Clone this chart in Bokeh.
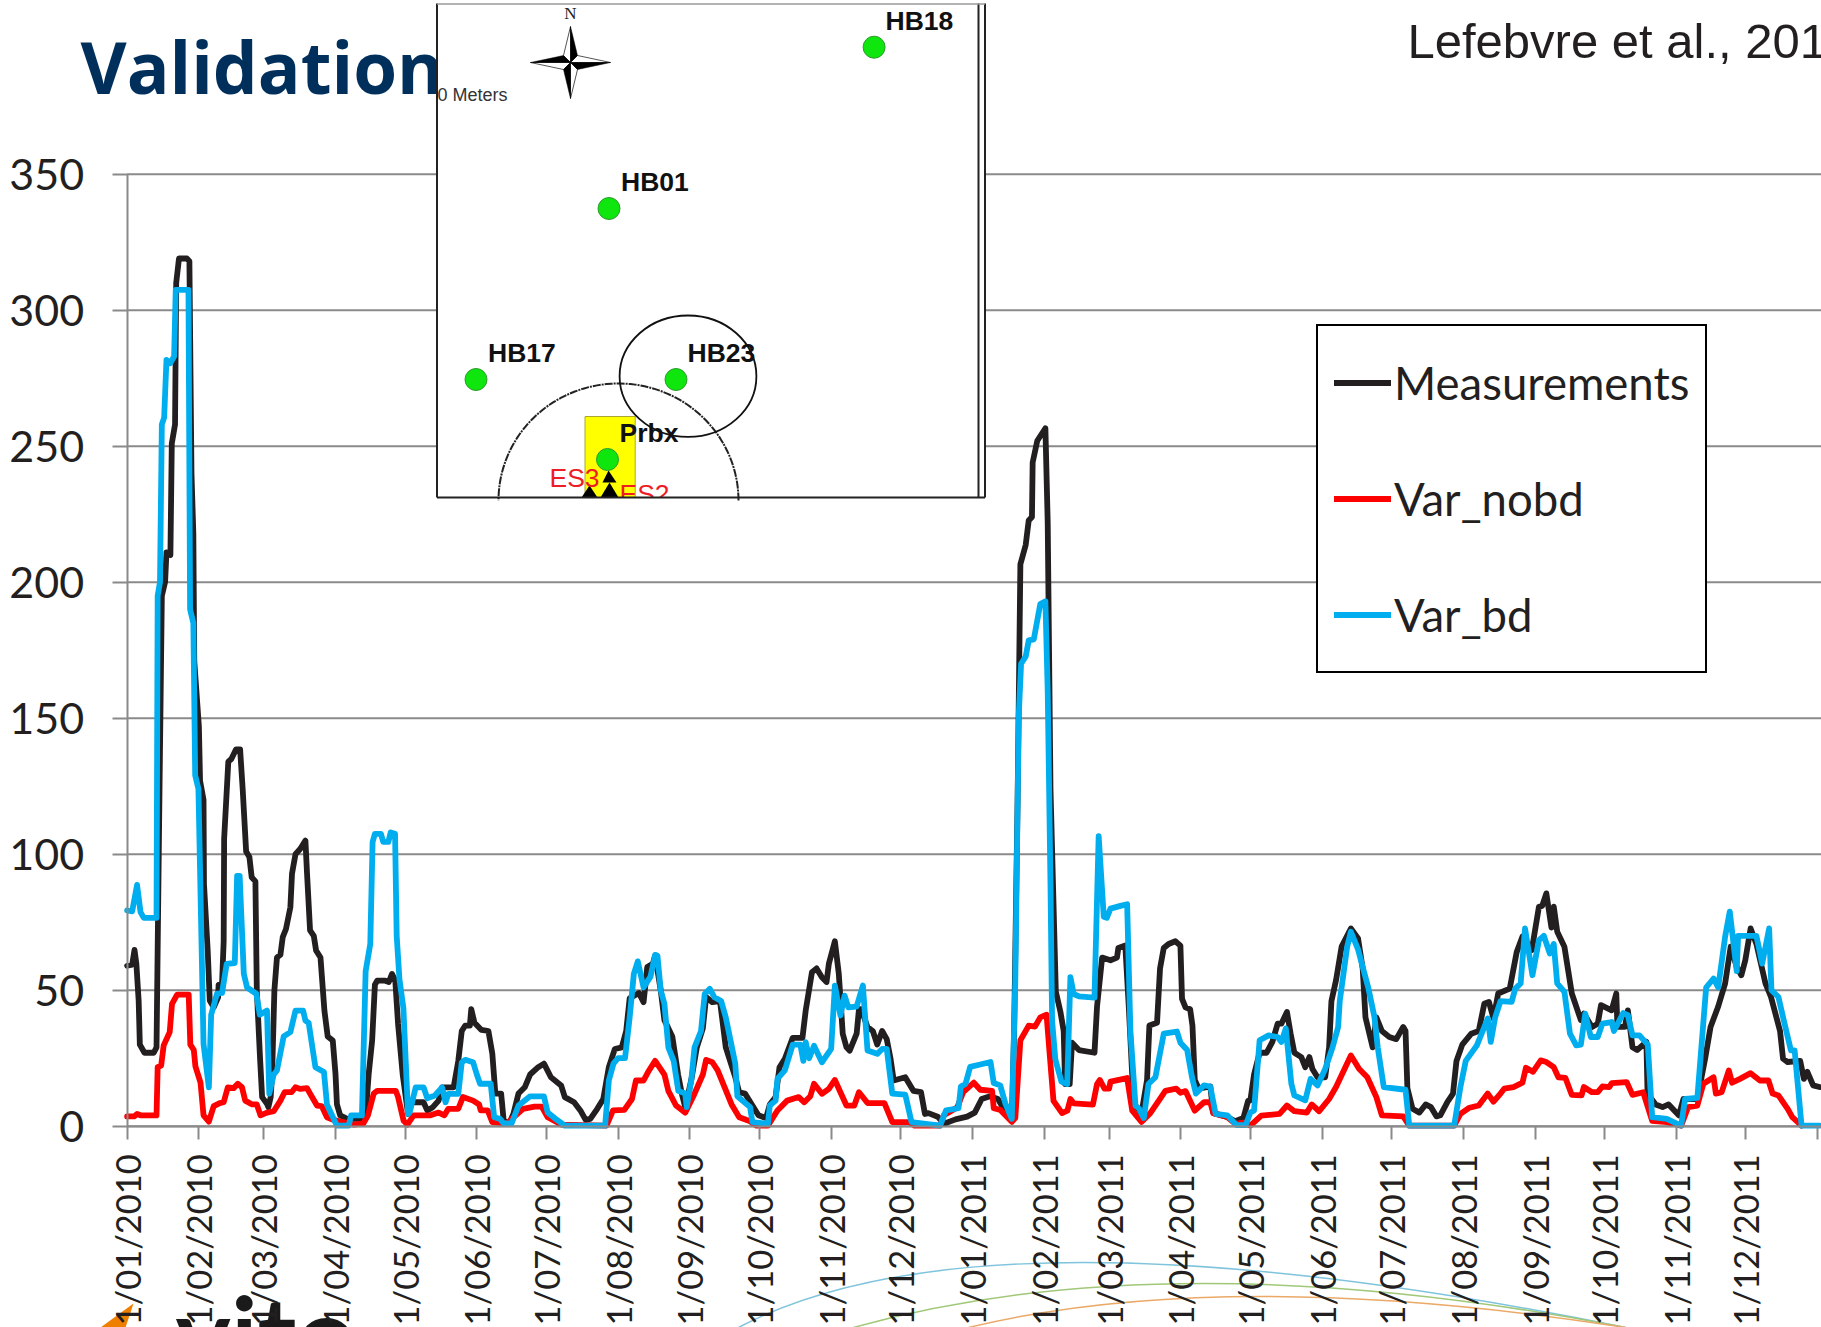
from datetime import date
import numpy as np
from bokeh.core.properties import value
from bokeh.embed import file_html
from bokeh.models import FixedTicker, Legend, LegendItem, Range1d
from bokeh.plotting import figure
from bokeh.resources import INLINE

TITLE = "Validation"
CITATION = "Lefebvre et al., 2013"
MONTH_LABELS = [f"1/{m:02d}/{y}" for y in (2010, 2011) for m in range(1, 13)]
Y_TICKS = [0, 50, 100, 150, 200, 250, 300, 350]

# (day since 1 Jan 2010, value)
MEASUREMENTS = [
(0,59),(2.2,59.4),(3.2,64.8),(4,59.7),(5,46),(5.5,30),(7.5,27),(11.5,27),(12.7,29),(14,124),(15,195),(16.4,200),(17,211),(18.7,210),(19.3,251),(20.7,258),(21.2,310),(22.4,319),(25.8,319),(26.9,318),(27.8,240),(28.6,218),(29,171),(31,147),(31.5,127),(33,120),(33.2,89),(34.8,64.6),(35.7,46.2),(37.4,43.7),(39.3,47.4),(39.5,52),(41,52.6),(41.7,68),(41.9,105.6),(43.7,134),(45,135),(47,138.5),(48.8,138.5),(49.9,124),(51.4,101),(52.8,99),(53.8,91.5),(55.4,90),(56,50),(57.4,25),(58.3,10.7),(60.4,8.2),(61,7),(62,10.7),(62.6,19),(63.6,50),(64.7,62),(66.2,63),(67.2,69.5),(68.6,72.5),(70.5,80.5),(71.2,92.8),(72.7,100),(74.8,102),(77,105),(77.7,92.8),(79,72),(80.6,70),(81.6,64.6),(83.5,62),(85.2,42.5),(86.6,33),(88.8,31.5),(90,19),(90.6,8),(92,4),(95,2.7),(100.7,2.7),(103,4),(104.3,19),(105.8,31.5),(107,52),(108,53.5),(111.5,53.5),(113,53),(114.4,56),(115.8,53.5),(117,37.6),(119,19),(121.3,4.5),(123,8.8),(128,8.8),(129.6,5.8),(132,7),(134.5,9.4),(136,14.3),(141,14.3),(143,24),(144.5,35),(146,37),(148,37),(148.6,43),(150,38),(153,35.4),(156,35),(157.7,26.6),(159,12),(161.5,12),(162.6,2),(165,1),(166.8,4.5),(169,12),(171.7,14.3),(174,19),(177.5,21.7),(180,23),(183,18),(187.4,15),(189,10.7),(193,8.8),(195.7,5.8),(198,2.3),(200,2.7),(203,6.4),(205.6,10),(208,21.7),(210.6,28.4),(213.6,29),(215.5,35),(217,47),(221,49),(223,45.6),(224.6,58.5),(227,59.7),(228,62.7),(230.4,50),(232,39),(235.4,33),(237.9,19),(239.5,12),(241,7),(243.6,17),(246,29),(248.6,36),(250,47.5),(252.7,45.6),(256,46),(258.5,29),(262.6,18),(264.3,12.5),(266.8,12),(270,7.6),(272.6,4),(275.9,3),(277.5,8),(280,10.7),(281.7,21.7),(284,24.8),(287.4,32.5),(291.6,32.5),(293,42.5),(295.7,56.6),(297.7,58),(300,54.8),(302,53),(303,59.7),(305.6,68),(307.3,56),(309,34),(310.6,29),(312,27.8),(315,34),(316,43),(317,43),(319.7,36.4),(322,35),(323.9,30),(326,35),(328,32),(329.6,25),(331,16.8),(336,18),(339.5,13),(342.8,12.5),(344.5,4.5),(346,4.8),(350,3.5),(352.7,0.9),(357.7,2.5),(362.7,3.5),(366,5),(369,10),(372.6,11),(376,10),(379,5.7),(382,2),(383,35),(384.5,120),(385.7,206.6),(388,213.7),(389.3,222.7),(390.7,224),(391,244),(393,252),(396.5,256.6),(397.5,222),(398.7,124),(401,49.5),(403,42),(404.4,35),(405,15.5),(407,15.5),(408,30.7),(411,28),(417.7,27),(418.8,44),(421,62),(424.6,61),(427.4,62),(428,65.5),(431,66.4),(432.5,44),(434.6,8.4),(438,4.8),(440.4,17),(441.4,37),(444.7,38),(446,58),(447.6,65.5),(449.7,67),(452.6,68),(454.8,66.4),(455.5,46.8),(457,43.7),(459,43),(460,37),(461,17),(462.7,13.8),(467.7,14.6),(469,4.8),(475,3.4),(478.5,1.8),(482,3),(484,9.3),(485,9.5),(486.6,19),(489,27),(492,27),(494.5,31),(496.8,37.7),(498.4,37.7),(500.8,42),(502.4,34),(504,27),(507,25.4),(508.7,21.7),(510.5,25.4),(511.8,21),(514,18),(517.3,18),(519,29),(520,46),(522,53.7),(524.4,66),(528.4,72.7),(531.5,69),(533.5,58),(534.7,40),(537.8,29),(539.4,40),(541.8,35),(545,32.8),(548,32),(551,36.5),(552,35),(552.8,14),(555,6.4),(558,5),(560.7,8),(563,7),(565.4,3.6),(567,4),(570,8.8),(572.5,12),(574,24),(576.5,30),(580.4,34),(583.6,35),(586,45),(588,45.7),(590,39.6),(592,48.8),(597,50.6),(600,64),(602.5,69.7),(606.5,64.7),(609.6,80.7),(611,81),(612.8,85.6),(615,73),(616,80.7),(617.5,71.5),(620.6,66),(623.8,48.8),(627.7,39),(629,41.4),(632.5,36.5),(635,37.7),(636.4,44.5),(641,42.6),(643,48.8),(643.5,36.5),(646.7,36.5),(648,42.6),(650,29),(652,28),(656,31),(656.5,12),(660,8),(663,7),(665.6,8),(670,4),(672,10),(678,10),(681.4,25),(683.7,36.5),(687,44),(690,52.5),(692.4,66),(695,58.6),(697,55.5),(698.7,61),(701,72.7),(703.5,67),(707.4,52.5),(709.8,47.5),(713.7,35),(715,24.8),(717,23.6),(722.4,24),(724,17.4),(725.5,20),(728,15),(730.7,14.4)]

VAR_NOBD = [
(0,3.6),(3,3.6),(4.3,4.5),(5.8,4),(12.7,4),(13.2,21.7),(14.7,22.3),(15.8,29.7),(18.4,34.6),(19.4,45),(21.6,48.4),(26.6,48.4),(27.3,30),(28.8,28),(29.5,22),(31.7,16),(33,4),(35.3,1.7),(37.4,7.4),(40,8.5),(41.7,8.8),(43.5,14.3),(46,14),(47.8,15.6),(49.6,14.3),(51,9.4),(54,8),(56,8),(57.6,4),(60.4,5),(63.3,5.5),(66.2,9.4),(68,12.5),(71,12.5),(72.7,14.3),(74.8,13.7),(77.7,14),(79,12),(82,7.6),(84,7.4),(86.3,3.3),(89,2.3),(98,0.6),(102,1),(104,4),(106.5,12),(108,13),(116,13),(117,10.7),(119.4,2),(121,0.6),(123.7,4),(131,4),(134.5,5),(137,4),(138.7,6.4),(143,6.4),(145,10.7),(149.4,9.4),(152,8),(152.7,5.8),(155.7,5.8),(157.7,1.5),(164,1),(167.8,4),(171,6.4),(175.9,7.2),(179,7.2),(181.6,3.3),(187.4,0.6),(207,0.2),(209.8,5.8),(214.7,6),(218,10),(219.7,16.8),(223,16.8),(225,20),(228,24),(232,19),(233.7,13),(237,7.6),(241,5),(244.5,11),(248.6,19),(250,24.4),(252.7,23.5),(255,20.5),(261,8),(264.3,3.3),(269,1.8),(271.7,0.2),(276.7,0.2),(280.8,5.8),(285,9.4),(290,10.7),(292.4,8.8),(295,11),(296.6,15.6),(300,11.9),(303,13.7),(305.6,17),(310.6,7.6),(314,7.6),(316,12.5),(319.7,8.5),(327,8.5),(330.4,1.5),(337.9,1.5),(340,0.2),(351,0.2),(352.7,4),(358.5,7),(361,12.5),(365.6,16),(368.4,13.4),(373.5,13),(374.2,6.6),(377,6),(382,1.6),(383.5,3),(385.7,31.6),(389.3,37),(392,36.6),(394.3,40),(397,41),(398.4,26),(400,9.3),(403.7,4.8),(406,5.7),(407.3,10),(408.7,8.4),(417,7.9),(418.8,15.5),(420,17),(422,13.8),(424,13.8),(424.6,16.4),(431.8,17.7),(434,5.7),(438,1.6),(441.8,4.8),(445.4,9.3),(448.3,13),(453,13.8),(454.8,12.3),(457,12.9),(461,5.7),(465,8.8),(467.7,8.8),(469,4.8),(475,3.4),(478.5,0.9),(482,1.3),(485,0.2),(489.7,3.9),(497.6,4.5),(500.8,7.6),(504,5.5),(509.4,5),(511.5,8),(514.7,5.5),(519,10),(522,14.4),(528.4,26),(532,21),(535.5,18),(539.4,10.7),(541.8,4),(551,3.6),(553.6,0.2),(573,0.2),(575.7,4.5),(579.6,6.8),(583.6,7.6),(587.5,12),(590,9),(593,12),(594.6,13.8),(598.6,14.4),(602.5,16),(604,21.5),(607,20),(610.4,24.2),(612.8,23.6),(616,21.7),(618,18),(621,17.8),(623.8,11.5),(628,11.3),(629,14.4),(632.5,12.5),(635,12.5),(637,14.6),(640,14.4),(641,15.8),(647.5,16.2),(650,11.5),(654.6,12.5),(658.5,2),(664.8,1.5),(671,0.2),(674,7),(678,7.6),(680.6,15.6),(685,18),(686,12),(688.5,12.5),(691.6,20.5),(693,16),(696.4,17.4),(701,19.5),(705,16.8),(708.7,16.8),(710.5,12),(713,11.3),(717,6.4),(719,3.3),(723,0.2)]

VAR_BD = [
(0,79.3),(2.2,79),(4.3,88.7),(5.8,78.7),(7.2,76.6),(12.7,76.6),(13.2,195),(14.2,200),(15,258),(16,260.5),(17,281.7),(18.6,280.5),(20.3,283),(21,307.5),(26.5,307.5),(27.2,190),(28.6,185),(29.4,129),(30.8,124),(33,30.3),(35.3,14.3),(36.3,41),(38.8,48.7),(41,49),(43,59.7),(46.5,60),(47.5,92),(48.6,92),(50.4,56),(51.8,51),(55.8,48.7),(57.3,41),(60.4,42.5),(61.4,12),(63.3,19),(64.7,20.5),(67.6,33),(70.5,34.6),(72.7,42.5),(76,42.5),(77,38.8),(78.4,38),(81.3,21.7),(85,19.9),(86.3,8),(90.6,0.2),(95.7,0.2),(96.7,4),(101.4,4),(103,57),(105,67),(106,104.5),(107,107.5),(109.6,107.5),(110.6,104.5),(112.8,104.5),(113.8,108),(115.7,107.5),(116.4,70),(117.6,54),(119.3,43.4),(121.3,4.5),(122,5),(124.6,14.3),(128,14.3),(129.6,10.3),(132.9,11.3),(136,14.3),(137.5,8.8),(138.7,11.9),(143,11.9),(144.5,23.5),(146,24.4),(149.4,23.5),(151,19),(152.4,15.6),(157,15.6),(158.5,3.3),(161,2.7),(162.6,1),(166,1),(169,7.6),(174,11),(180,11),(181.6,5),(185,2.7),(189,0.2),(206.4,0.2),(208,16.8),(210,23),(212,25),(215,25),(217,40),(218.8,56),(220.5,60.6),(223,51),(226,55),(228,63),(229,62.7),(230.4,50),(232,45),(233.7,29),(236,24),(238,13),(241,12),(241.6,7),(243.6,16.8),(245,29),(247.8,35),(249.4,48.6),(251.6,50.5),(253.6,47.4),(256.5,46),(258.5,40),(262.6,23),(263.5,11),(269,7),(270,1.5),(276.7,0.9),(277.5,7.6),(280,9.4),(280.8,17.4),(284,20.5),(287.4,30),(290.7,30),(292,24),(293,30.9),(294.5,25),(296.6,29.6),(300,23.5),(304,28.4),(305.6,51.7),(308,40.7),(309.8,48),(311.4,43.7),(315,44),(317.7,51.7),(319.7,27.8),(323.9,26.6),(326,28.4),(328,28.4),(330.4,12),(336,11.6),(338.7,1.5),(351,0.2),(353.6,5.8),(359,6.6),(360,14.6),(362,15.5),(364,21.8),(368.4,22.7),(372.8,23.6),(374.2,15.9),(377,15),(379.2,8.4),(382,2.7),(383.5,53),(385,151),(386,170),(388,172.7),(389.3,178.6),(391.5,179),(393,186),(394.3,192),(396.5,193),(397.5,160),(398.7,88.8),(399.4,38.8),(400.8,24.5),(403.4,16.4),(405.9,15.5),(407.3,54.8),(408.7,48.6),(411,47.7),(417.7,47.3),(419.5,106.6),(421.7,77),(423,76.6),(424.6,80),(428.9,81),(431.8,81.6),(433.2,35),(435.4,7.5),(436.8,6.6),(439,3),(441,15.5),(444,18),(447.6,34),(453.3,34.8),(454.8,30.7),(457.7,28),(459.8,18),(461.5,12),(465,15),(467.7,14.6),(470,4.5),(475,4),(479,0.4),(483,0.4),(485,5),(486.6,5.8),(489,31.6),(492.9,33.4),(496.8,32.8),(498.4,31),(500.3,35.9),(502.7,15.6),(504,11.3),(508.7,9.5),(511,17.4),(514,15),(517.3,21),(520.5,29),(522.9,36.5),(523.6,46),(526.8,66),(528.4,71.5),(531.5,65),(536,50.6),(538.6,40),(540,29),(542.6,14.4),(552,13.4),(553.6,0.2),(573,0.2),(575.7,14.4),(578,24),(582.8,29.7),(587.5,39.6),(588.8,31),(590.7,40),(593,46),(597.8,45.7),(599.4,50.6),(601.7,52.5),(603.6,72.7),(606.8,55.5),(609.6,68.4),(611.7,70),(614.3,63.5),(616,67),(617.5,52.5),(620.6,49.4),(623,34),(625.7,29.7),(627.7,30),(629.6,41.4),(632,32.8),(635,32.8),(637,37.7),(641,38.3),(642,35),(646,41.6),(648,40.8),(650,33.4),(653,33.4),(656.6,30),(658.5,3.3),(664.8,2.7),(671,0.2),(672.7,10),(678,10.4),(681.8,51),(685,54.3),(687,51),(690,69.7),(692,78.9),(695,57),(695.6,70),(703.5,70),(706,59.8),(709,72.7),(710,50),(713,47.5),(715.3,39),(718.4,27.9),(720,27.9),(723,0.2),(730.7,0.2)]

PX_PER_DAY = 2.316
PX_PER_UNIT = 2.72
X0_PX, Y0_PX = 126.6, 1125.7
L, T, R, B = 0, 0, 1821, 1327   # page pixels drawn by the figure

p = figure(width=R - L, height=B - T, output_backend="svg", toolbar_location=None,
           x_range=Range1d((L - X0_PX) / PX_PER_DAY, (R - X0_PX) / PX_PER_DAY),
           y_range=Range1d((Y0_PX - B) / PX_PER_UNIT, (Y0_PX - T) / PX_PER_UNIT),
           min_border=0, min_border_left=0, min_border_right=0, min_border_top=0, min_border_bottom=0,
           outline_line_color=None, background_fill_color="white")
p.grid.visible = False
p.extra_x_ranges["px"] = Range1d(L, R)
p.extra_y_ranges["px"] = Range1d(B, T)
PX = dict(x_range_name="px", y_range_name="px")
BASE = dict(text_baseline="alphabetic", **PX)

GREY = "#8a8a8a"
TXT = "#231f20"
tick_days = [(date(int(s[5:]), int(s[2:4]), 1) - date(2010, 1, 1)).days for s in MONTH_LABELS]

def label(x, y, texts, font, size, color, **kw):
    """Text whose glyph baseline sits at y."""
    p.text(x, [v - 0.39 * size for v in y], text=texts, text_font=value(font),
           text_font_size=f"{size}px", text_color=color, **BASE, **kw)

# slide pieces under the chart
p.quadratic(x0=[738], y0=[1327], x1=[1625], y1=[1327], cx=[985], cy=[1197], line_color="#7fc4dc", line_width=1.5, **PX)
p.quadratic(x0=[853], y0=[1327], x1=[1625], y1=[1327], cx=[1169], cy=[1239], line_color="#a0c878", line_width=1.5, **PX)
p.quadratic(x0=[968], y0=[1327], x1=[1625], y1=[1327], cx=[1226], cy=[1265], line_color="#eba968", line_width=1.5, **PX)
p.patch([133, 100, 125], [1303, 1327, 1327], fill_color="#ee7f00", line_color=None, **PX)
label([175], [1372], ["vito"], "Lato", 105, "#1a1a1a", text_font_style="bold")

# grid
gx0 = [0] * len(Y_TICKS)
gx1 = [735] * len(Y_TICKS)
p.segment(gx0, Y_TICKS, gx1, Y_TICKS, line_color=GREY, line_width=2)

# title and citation
label([80], [94], [TITLE], "Open Sans", 71, "#002f5b", text_font_style="bold")
label([1407], [60], [CITATION], "Liberation Sans", 49, TXT)

# inset map
p.quad(left=[436.5], right=[984.5], top=[3], bottom=[497], fill_color="white", line_color=None, **PX)
p.quad(left=[584.5], right=[634.7], top=[416], bottom=[497], fill_color="#ffff00", line_color="#a8a830", line_width=1, **PX)
th = np.linspace(0, np.pi, 80)
p.line(618 + 120 * np.cos(th), 500 - 117 * np.sin(th), line_color="#222222", line_width=2, line_dash="8 1 2 1", **PX)
p.ellipse([687.5], [375.7], width=[136.8], height=[121.4], fill_color=None, line_color="#111111", line_width=1.8, **PX)
p.patches([[602, 608, 616], [600, 609, 618], [581, 589, 597]], [[482, 470, 482], [497, 482, 497], [497, 485, 497]], fill_color="black", line_color=None, **PX)
stations = ["HB18", "HB01", "HB17", "HB23", "Prbx"]
st_x = [873.6, 608.5, 475.5, 675.5, 607]
st_y = [46.7, 208, 379, 379, 459]
lb_x = [885, 620.5, 487.5, 687, 619]
lb_y = [30.6, 191.7, 363, 363, 442.7]
p.scatter(st_x, st_y, size=22, marker="circle", fill_color="#0ee60e", line_color="#2f9a2f", line_width=1, **PX)
label(lb_x, lb_y, stations, "Liberation Sans", 26.5, "#111111", text_font_style="bold")
label([549, 619], [487.7, 503.5], ["ES3", "ES2"], "Liberation Sans", 26.5, "#ee1c25")
p.quad(left=[612], right=[690], top=[497], bottom=[512], fill_color="white", line_color=None, **PX)
label([437], [102], ["0 Meters"], "Liberation Sans", 18, "#333333")
label([570], [20], ["N"], "Liberation Serif", 17, "#222222", text_align="center")
cx, cy, a, b, q = 570, 62, 40, 36, 7
dark = [[[cx, cx, cx + q], [cy, cy - b, cy - q]], [[cx, cx - a, cx - q], [cy, cy, cy - q]],
        [[cx, cx, cx - q], [cy, cy + b, cy + q]], [[cx, cx + a, cx + q], [cy, cy, cy + q]]]
lite = [[[cx, cx, cx - q], [cy, cy - b, cy - q]], [[cx, cx - a, cx - q], [cy, cy, cy + q]],
        [[cx, cx, cx + q], [cy, cy + b, cy + q]], [[cx, cx + a, cx + q], [cy, cy, cy - q]]]
p.patches([d[0] for d in lite], [d[1] for d in lite], fill_color="white", line_color="#555555", line_width=1, **PX)
p.patches([d[0] for d in dark], [d[1] for d in dark], fill_color="black", line_color="black", line_width=0.5, **PX)
p.multi_line([[436.5, 436.5], [436.5, 984.5], [978, 978], [984.5, 984.5]], [[3, 497], [497, 497], [3, 497], [3, 497]],
             line_color="#222222", line_width=2, **PX)
p.line([436.5, 984.5], [3.5, 3.5], line_color="#999999", line_width=1.5, **PX)

# data
def xs(s): return [a for a, _ in s]
def ys(s): return [b for _, b in s]
COMMON = dict(line_width=5.8, line_join="round", line_cap="round")
r_m = p.line(xs(MEASUREMENTS), ys(MEASUREMENTS), line_color="#231f20", **COMMON)
r_n = p.line(xs(VAR_NOBD), ys(VAR_NOBD), line_color="#ff0000", **COMMON)
r_b = p.line(xs(VAR_BD), ys(VAR_BD), line_color="#00aeef", **COMMON)

# axes
xa = p.xaxis[0]
xa.fixed_location = 0
xa.bounds = (0, 735)
xa.ticker = FixedTicker(ticks=tick_days + [730])
xa.major_label_overrides = {**dict(zip(tick_days, MONTH_LABELS)), 730: ""}
xa.major_label_orientation = np.pi / 2
xa.major_label_standoff = 15
xa.major_label_text_font = "Lato"
xa.major_label_text_font_size = "34.5px"
xa.major_label_text_color = TXT
xa.major_tick_out, xa.major_tick_in, xa.minor_tick_out, xa.minor_tick_in = 13, 0, 0, 0
xa.major_tick_line_color = GREY
xa.major_tick_line_width = 2
xa.axis_line_color = GREY
xa.axis_line_width = 2

ya = p.yaxis[0]
ya.fixed_location = 0
ya.bounds = (0, 350)
ya.ticker = FixedTicker(ticks=Y_TICKS)
ya.major_label_standoff = 28
ya.major_label_text_font = "Lato"
ya.major_label_text_font_size = "43px"
ya.major_label_text_color = TXT
ya.major_tick_out, ya.major_tick_in, ya.minor_tick_out, ya.minor_tick_in = 15, 0, 0, 0
ya.major_tick_line_color = GREY
ya.major_tick_line_width = 2
ya.axis_line_color = GREY
ya.axis_line_width = 2

legend = Legend(items=[LegendItem(label="Measurements", renderers=[r_m]),
                       LegendItem(label="Var_nobd", renderers=[r_n]),
                       LegendItem(label="Var_bd", renderers=[r_b])],
                location=(1316 - L, B - 672.5), padding=16, margin=0, spacing=35,
                glyph_width=57, glyph_height=81, label_height=81, label_standoff=3,
                label_text_font="Lato", label_text_font_size="45.5px", label_text_color=TXT,
                border_line_color="#000000", border_line_alpha=1, border_line_width=2, background_fill_color="white", background_fill_alpha=1)
p.add_layout(legend, "center")

open("out.html", "w").write(file_html(p, INLINE))
